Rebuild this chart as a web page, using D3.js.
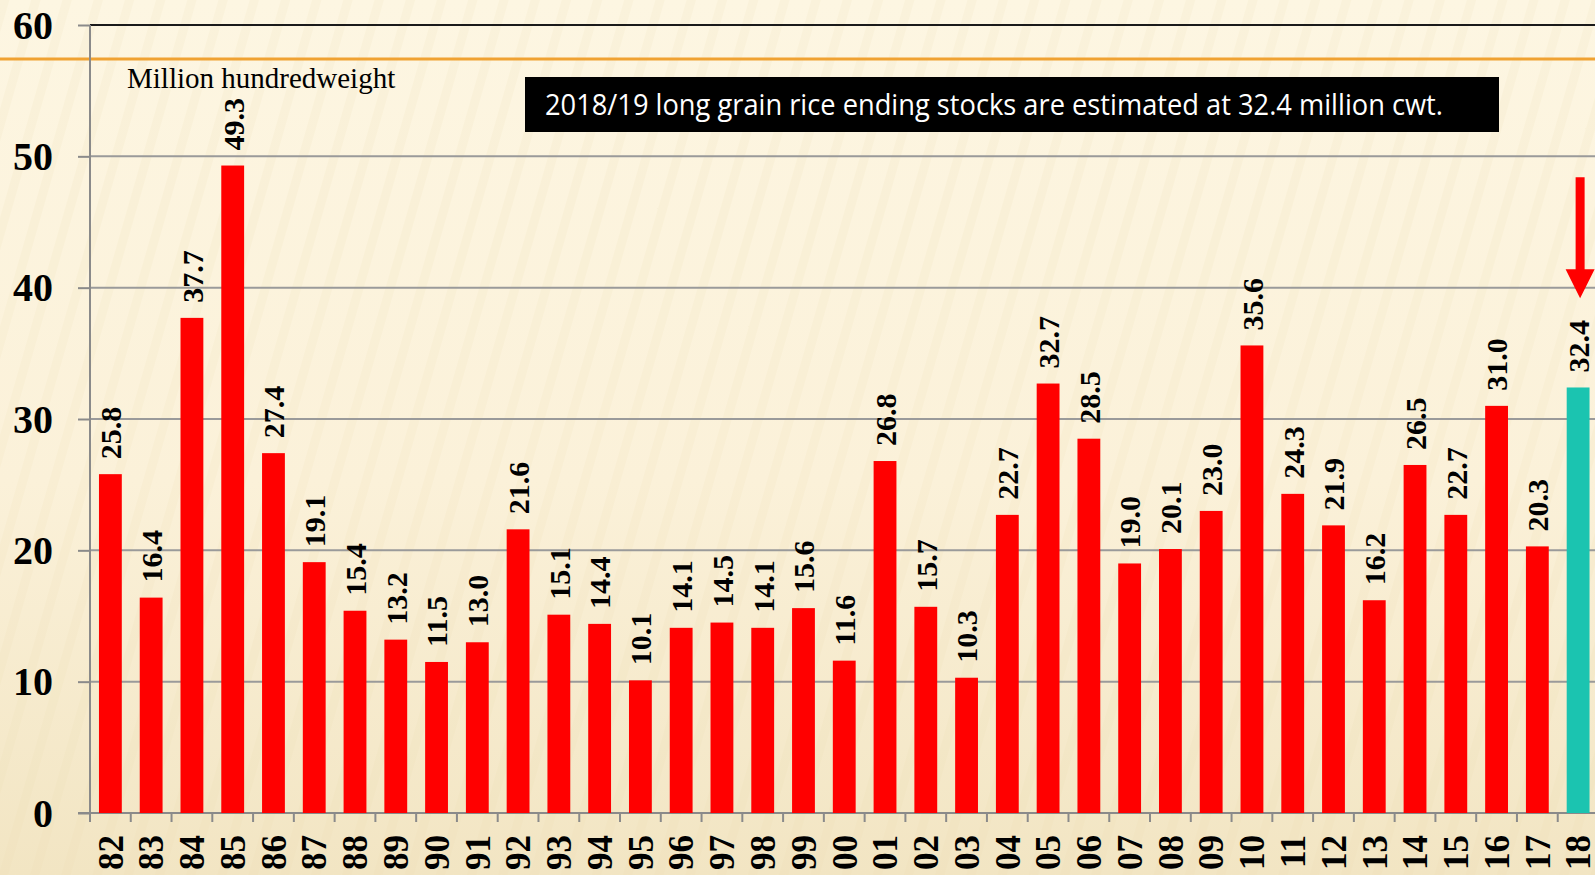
<!DOCTYPE html>
<html>
<head>
<meta charset="utf-8">
<script src="https://cdn.jsdelivr.net/npm/d3@7"></script>
<style>
    html, body { margin: 0; padding: 0; overflow: hidden; }
    svg { display: block; }
</style>
</head>
<body>
<svg id="chart" width="1595" height="875"></svg>
<script>
'use strict';

// marketing years 1982/83 .. 2018/19
const years = ['82', '83', '84', '85', '86', '87', '88', '89', '90', '91',
    '92', '93', '94', '95', '96', '97', '98', '99', '00', '01', '02', '03',
    '04', '05', '06', '07', '08', '09', '10', '11', '12', '13', '14', '15',
    '16', '17', '18']
const stocks = [25.8, 16.4, 37.7, 49.3, 27.4, 19.1, 15.4, 13.2, 11.5, 13.0,
    21.6, 15.1, 14.4, 10.1, 14.1, 14.5, 14.1, 15.6, 11.6, 26.8, 15.7, 10.3,
    22.7, 32.7, 28.5, 19.0, 20.1, 23.0, 35.6, 24.3, 21.9, 16.2, 26.5, 22.7,
    31.0, 20.3, 32.4]
const yTicks = [0, 10, 20, 30, 40, 50, 60]
const highlight = '18'
const unitLabel = 'Million hundredweight'
const note = '2018/19 long grain rice ending stocks are estimated at 32.4 million cwt.'
// arrow runs from / to these values above the highlighted bar
const arrowFrom = 48.4
const arrowTo = 39.2

const W = 1595
const H = 875
const plotLeft = 90
const plotRight = 1598.5
const plotTop = 25
const plotBottom = 813
const serif = "'Times New Roman', 'Liberation Serif', serif"

const svg = d3.select('#chart')
const defs = svg.append('defs')

let bgGrad = defs.append('linearGradient')
    .attr('id', 'bg')
    .attr('x1', 0).attr('y1', 0).attr('x2', 0).attr('y2', 1)
bgGrad.append('stop').attr('offset', '0%').attr('stop-color', '#fdf6e2')
bgGrad.append('stop').attr('offset', '55%').attr('stop-color', '#fbf1d9')
bgGrad.append('stop').attr('offset', '100%').attr('stop-color', '#f2e5c3')

// faint slanted stripes of the slide background
let stripes = defs.append('pattern')
    .attr('id', 'stripes')
    .attr('patternUnits', 'userSpaceOnUse')
    .attr('width', 30).attr('height', 30)
    .attr('patternTransform', 'rotate(16)')
stripes.append('rect')
    .attr('width', 9).attr('height', 30)
    .attr('fill', '#e9d8a8')
    .attr('opacity', 0.13)

svg.append('rect').attr('width', W).attr('height', H).attr('fill', 'url(#bg)')
svg.append('rect').attr('width', W).attr('height', H).attr('fill', 'url(#stripes)')

let x = d3.scaleBand()
    .domain(years)
    .range([plotLeft, plotRight])
    .paddingInner(0.44)
    .paddingOuter(0.22)

let y = d3.scaleLinear()
    .domain([0, 60])
    .range([plotBottom, plotTop])

// gridlines (top one drawn dark)
svg.append('g')
    .selectAll('line')
    .data(yTicks.filter(d => d > 0))
    .join('line')
    .attr('x1', plotLeft).attr('x2', W)
    .attr('y1', d => y(d)).attr('y2', d => y(d))
    .attr('stroke', d => d === 60 ? '#1a1a1a' : '#9a9a9a')
    .attr('stroke-width', 2)

// orange rule across the slide
svg.append('line')
    .attr('x1', 0).attr('x2', W)
    .attr('y1', 59).attr('y2', 59)
    .attr('stroke', '#f0a232')
    .attr('stroke-width', 3)

// y axis
let yAxis = svg.append('g')
    .attr('transform', 'translate(' + plotLeft + ',0)')
    .call(d3.axisLeft(y).tickValues(yTicks).tickSize(12).tickPadding(25))
yAxis.select('.domain').remove()
yAxis.selectAll('line').attr('stroke', '#8a8a8a').attr('stroke-width', 2)
yAxis.selectAll('text')
    .attr('fill', '#000')
    .style('font-family', serif)
    .style('font-weight', 'bold')
    .style('font-size', '40px')
    .attr('dy', '0.33em')

svg.append('line')
    .attr('x1', plotLeft).attr('x2', plotLeft)
    .attr('y1', plotTop).attr('y2', plotBottom + 9)
    .attr('stroke', '#8a8a8a')
    .attr('stroke-width', 2)

// x axis: ticks between categories
svg.append('line')
    .attr('x1', plotLeft - 12).attr('x2', W)
    .attr('y1', plotBottom).attr('y2', plotBottom)
    .attr('stroke', '#8a8a8a')
    .attr('stroke-width', 2)

let step = x.step()
svg.append('g')
    .selectAll('line')
    .data(years)
    .join('line')
    .attr('x1', d => x(d) - step * x.paddingOuter())
    .attr('x2', d => x(d) - step * x.paddingOuter())
    .attr('y1', plotBottom).attr('y2', plotBottom + 9)
    .attr('stroke', '#8a8a8a')
    .attr('stroke-width', 2)

svg.append('g')
    .selectAll('text')
    .data(years)
    .join('text')
    .attr('transform', d => 'translate(' + (x(d) + x.bandwidth() / 2) + ',' +
        (plotBottom + 22) + ') rotate(-90)')
    .attr('text-anchor', 'end')
    .attr('dy', '0.35em')
    .style('font-family', serif)
    .style('font-weight', 'bold')
    .style('font-size', '35px')
    .text(d => d)

// bars
svg.append('g')
    .selectAll('rect')
    .data(years)
    .join('rect')
    .attr('x', d => x(d))
    .attr('y', (d, i) => y(stocks[i]))
    .attr('width', x.bandwidth())
    .attr('height', (d, i) => plotBottom - y(stocks[i]))
    .attr('fill', d => d === highlight ? '#1bc4b0' : '#ff0000')

// value labels
svg.append('g')
    .selectAll('text')
    .data(years)
    .join('text')
    .attr('transform', (d, i) => 'translate(' + (x(d) + x.bandwidth() / 2) +
        ',' + (y(stocks[i]) - 15) + ') rotate(-90)')
    .attr('dy', '0.36em')
    .style('font-family', serif)
    .style('font-weight', 'bold')
    .style('font-size', '30px')
    .text((d, i) => d3.format('.1f')(stocks[i]))

// unit label
svg.append('text')
    .attr('x', 127).attr('y', 88)
    .style('font-family', serif)
    .style('font-size', '29px')
    .text(unitLabel)

// note box
svg.append('rect')
    .attr('x', 525).attr('y', 77)
    .attr('width', 974).attr('height', 55)
    .attr('fill', '#000')
svg.append('text')
    .attr('x', 545).attr('y', 115)
    .attr('fill', '#fff')
    .attr('textLength', 898)
    .attr('lengthAdjust', 'spacingAndGlyphs')
    .style('font-family', "'Open Sans', 'Liberation Sans', sans-serif")
    .style('font-size', '30px')
    .text(note)

// red arrow pointing at the highlighted bar
let ax = x(highlight) + x.bandwidth() / 2 + 2
let headY = y(arrowTo) - 29
svg.append('path')
    .attr('d', 'M' + (ax - 4.5) + ',' + y(arrowFrom) + ' H' + (ax + 4.5) +
        ' V' + headY + ' H' + (ax + 14.5) + ' L' + ax + ',' + y(arrowTo) +
        ' L' + (ax - 14.5) + ',' + headY + ' H' + (ax - 4.5) + ' Z')
    .attr('fill', '#ff0000')
</script>
</body>
</html>
